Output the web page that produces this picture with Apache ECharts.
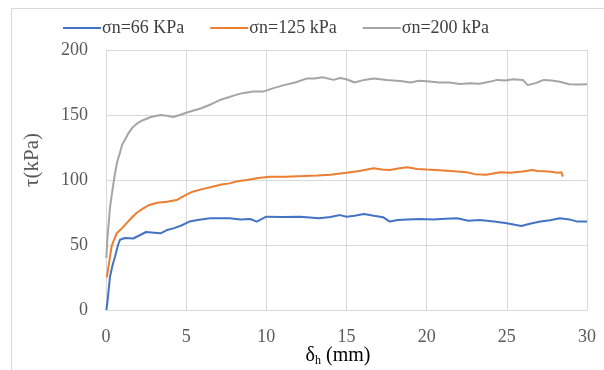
<!DOCTYPE html>
<html><head><meta charset="utf-8">
<script src="https://cdn.jsdelivr.net/npm/echarts@6/dist/echarts.min.js"></script>
<style>html,body{margin:0;padding:0;background:#fff}#c{width:604px;height:370px}</style>
</head><body><div id="c"></div>
<script>
var seriesNames = ['σn=66 KPa', 'σn=125 kPa', 'σn=200 kPa'];
var xTicks = [0, 5, 10, 15, 20, 25, 30];
var s66 = [[0.02,0],[0.08,5],[0.25,25.6],[0.4,34],[0.56,41],[0.75,50],[0.87,54],[1.18,55.4],[1.7,55],[2.1,57.5],[2.5,60],[3.0,59.5],[3.4,59],[3.8,61.5],[4.2,62.8],[4.7,65],[5.2,68],[5.8,69.5],[6.5,70.5],[7.1,70.5],[7.7,70.5],[8.4,69.7],[9.0,70],[9.4,68],[10.0,71.8],[11.0,71.5],[12.1,71.8],[12.7,71.2],[13.3,70.5],[14.0,71.5],[14.6,73],[15.0,71.8],[15.5,72.5],[16.1,73.8],[16.7,72.5],[17.3,71.3],[17.7,68],[18.2,69.2],[18.8,69.7],[19.6,70],[20.4,69.7],[21.2,70.2],[21.9,70.5],[22.6,68.7],[23.3,69.2],[24.2,68],[25.0,66.7],[25.5,65.5],[25.9,64.6],[26.5,66.5],[27.1,68],[27.7,69],[28.3,70.5],[28.9,69.7],[29.4,68],[30,68]];
var s125 = [[0.05,25],[0.15,33],[0.35,49],[0.5,54],[0.67,59],[1.0,63],[1.3,67],[1.6,71],[1.9,74.6],[2.3,78],[2.7,80.8],[3.2,82.5],[3.8,83.3],[4.4,84.6],[4.9,88],[5.4,91],[6.0,93],[6.7,95],[7.2,96.5],[7.7,97.4],[8.2,99],[8.8,100],[9.5,101.5],[10.2,102.5],[11.2,102.5],[12.3,103],[13.2,103.5],[14.0,104],[14.6,105],[15.0,105.6],[15.8,107],[16.7,109],[17.2,108],[17.7,107.7],[18.3,109],[18.8,109.8],[19.4,108.5],[20.0,108],[20.8,107.5],[21.5,107],[22.1,106.4],[22.5,106],[23.0,104.5],[23.7,104],[24.6,106],[25.2,105.6],[26.0,106.5],[26.6,107.7],[26.9,107],[27.6,106.5],[28.2,105.6],[28.4,106],[28.5,102.6]];
var s200 = [[0.02,40],[0.08,54],[0.25,79],[0.4,92],[0.56,105],[0.7,114],[0.87,121],[1.0,127],[1.18,131],[1.4,136],[1.7,141],[2.0,144],[2.3,146],[2.8,148.5],[3.4,150],[3.8,149.5],[4.2,148.5],[4.6,150],[5.2,152.5],[5.9,155],[6.6,158.5],[7.1,161.5],[7.6,163.5],[8.1,165.5],[8.6,167],[9.2,168],[9.8,168],[10.4,170.5],[11.1,173],[11.8,175],[12.5,178],[13.0,178],[13.5,179],[14.2,177],[14.6,178.5],[15.0,177.5],[15.5,175],[16.1,177],[16.7,178],[17.5,177],[18.5,176],[19.0,175],[19.5,176.3],[20.0,176],[20.8,175],[21.4,175],[22.1,173.8],[22.7,174.4],[23.3,174],[23.9,175.5],[24.4,177],[24.9,176.5],[25.4,177.5],[26.0,177],[26.3,173],[26.8,174.5],[27.3,177],[27.8,176.5],[28.3,175.6],[28.9,173.6],[29.5,173.4],[30,173.6]];
var colors = ['#4472C4', '#ED7D31', '#A5A5A5'];
var font = '"Liberation Serif", "DejaVu Serif", serif';
var chart = echarts.init(document.getElementById('c'));
function mk(name, data, color) {
  return {name: name, type: 'line', data: data, showSymbol: false, symbol: 'none',
    lineStyle: {color: color, width: 2}, itemStyle: {color: color}, animation: false};
}
chart.setOption({
  animation: false,
  color: colors,
  grid: {left: 106, right: 17, top: 50, bottom: 60, containLabel: false},
  legend: {
    top: 14, left: 58, itemWidth: 38, itemHeight: 2, itemGap: 26,
    icon: 'rect',
    textStyle: {fontFamily: font, fontSize: 18, color: '#404040', padding: [0, 0, 0, -4]},
    data: seriesNames
  },
  xAxis: {
    type: 'value', min: 0, max: 30, interval: 5,
    axisLine: {show: true, lineStyle: {color: '#D9D9D9', width: 1}},
    axisTick: {show: false},
    splitLine: {show: true, lineStyle: {color: '#D9D9D9', width: 1}},
    axisLabel: {fontFamily: font, fontSize: 18, color: '#595959', margin: 18,
      formatter: function (v) { return xTicks.indexOf(v) >= 0 ? String(v) : ''; }}
  },
  yAxis: {
    type: 'value', min: 0, max: 200, interval: 50,
    axisLine: {show: true, lineStyle: {color: '#D9D9D9', width: 1}},
    axisTick: {show: false},
    splitLine: {show: true, lineStyle: {color: '#D9D9D9', width: 1}},
    axisLabel: {fontFamily: font, fontSize: 18, color: '#595959', margin: 18}
  },
  graphic: [
    {type: 'rect', left: 9, top: 6, shape: {width: 620, height: 400},
      style: {fill: 'none', stroke: '#D9D9D9', lineWidth: 1}, silent: true, z: -1},
    {type: 'text', x: 32, y: 160, rotation: Math.PI / 2, silent: true,
      style: {text: 'τ(kPa)', fontFamily: font, fontSize: 21, fill: '#595959',
        textAlign: 'center', textVerticalAlign: 'middle'}},
    {type: 'text', x: 338, y: 356, silent: true,
      style: {text: '{a|δ}{s|h}{a| (mm)}', textAlign: 'center', textVerticalAlign: 'middle',
        rich: {a: {fontFamily: font, fontSize: 20, color: '#595959'},
               s: {fontFamily: font, fontSize: 12, color: '#595959', padding: [10, 0, 0, 0]}}}}
  ],
  series: [mk(seriesNames[0], s66, colors[0]), mk(seriesNames[1], s125, colors[1]), mk(seriesNames[2], s200, colors[2])]
});
</script></body></html>
